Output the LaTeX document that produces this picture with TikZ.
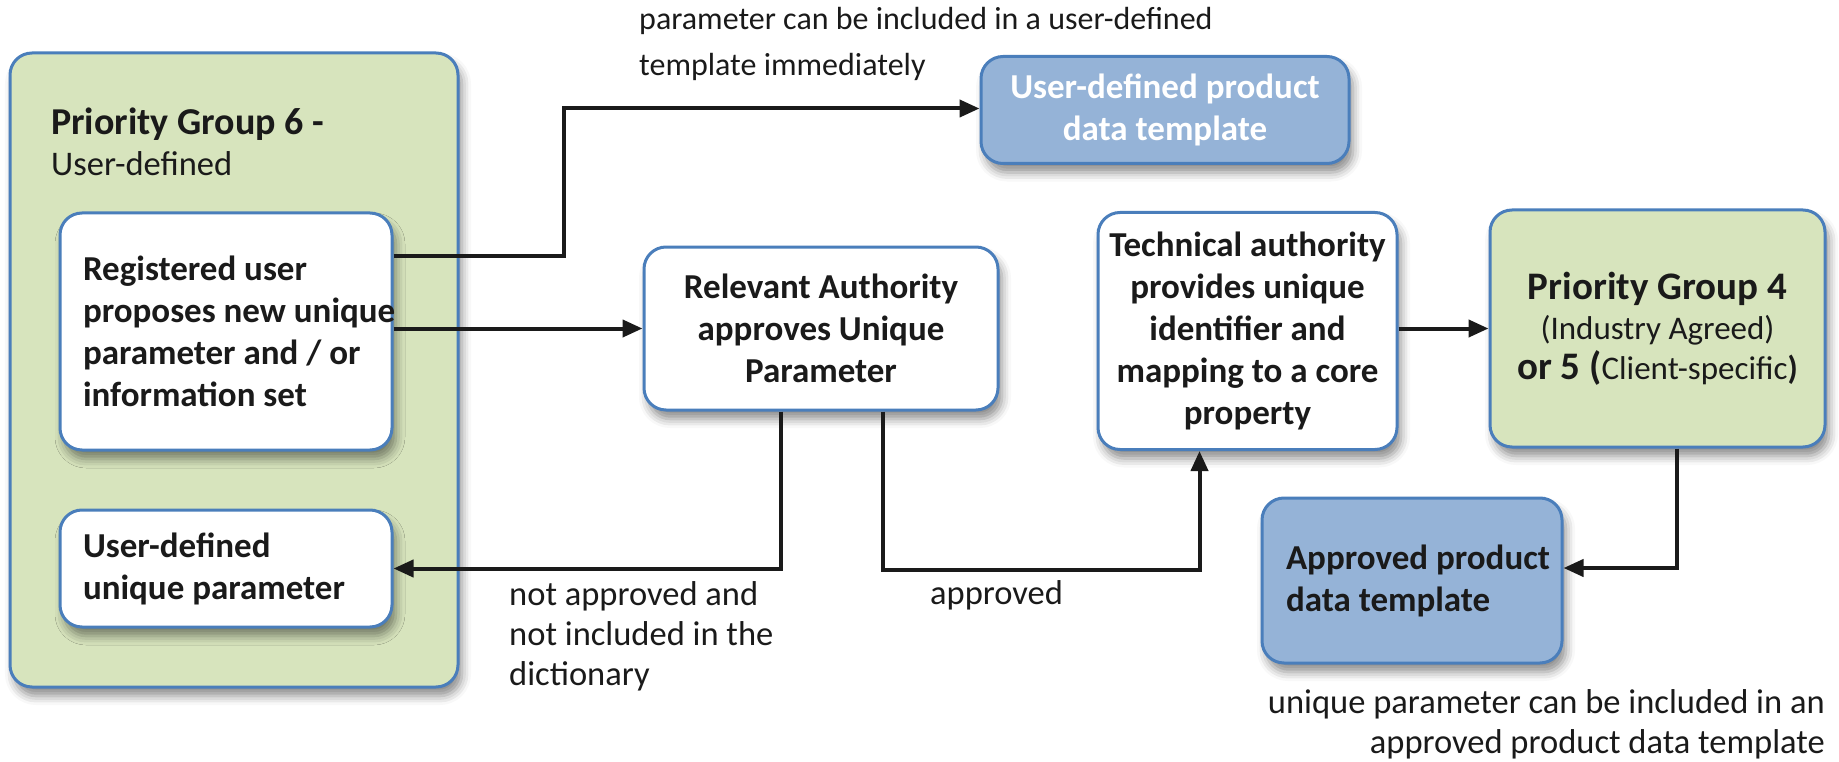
\documentclass[tikz,border=0pt]{standalone}
\usepackage{fontspec}
\setmainfont{Carlito}
\usepackage{tikz}
\usetikzlibrary{positioning}
\usetikzlibrary{arrows.meta}
\usetikzlibrary{shadows.blur}
\definecolor{boxline}{HTML}{4A7EBB}
\definecolor{groupgreen}{HTML}{D7E4BD}
\definecolor{templateblue}{HTML}{95B3D7}
\definecolor{inktext}{HTML}{1A1A1A}
\newcommand{\boxfont}{\fontsize{35}{42}\selectfont\bfseries}
\newcommand{\notefont}{\fontsize{34.5}{40}\selectfont}
\newcommand{\row}[1]{\mbox{\spaceskip=0pt\xspaceskip=0pt\relax #1}}

\begin{document}
\begin{tikzpicture}[x=1pt, y=-1pt, text=inktext,
    card/.style={
        draw=boxline, line width=3pt, rounded corners=22pt,
        blur shadow={shadow xshift=4pt, shadow yshift=-9pt,
            shadow blur radius=9pt, shadow opacity=45}},
    group/.style={card, fill=groupgreen},
    task/.style={card, fill=white, font=\boxfont, align=center},
    template/.style={card, fill=templateblue, font=\boxfont},
    note/.style={font=\notefont, inner sep=0pt},
    flow/.style={->, >={Triangle[length=20pt, width=17pt]},
        line width=4pt, draw=inktext, line join=miter}
    ]
    \useasboundingbox (0,0) rectangle (1839,762);

    % priority group 6 with its two boxes
    \node[group, minimum width=448pt, minimum height=634pt] (pg6) at (234,370) {};
    \node[inner sep=0pt, anchor=west, align=left, font=\fontsize{34.5}{41}\selectfont]
        (pg6 title) at (51,142)
        {\fontsize{38}{41}\selectfont\bfseries Priority Group 6 -\\User-defined};
    \node[task, align=left, text width=286pt, inner xsep=23pt,
        minimum height=237pt] (proposal) at (226,331.5)
        {\row{Registered user}\\\row{proposes new unique}\\\row{parameter and / or}\\\row{information set}};
    \node[task, align=left, text width=286pt, inner xsep=23pt,
        minimum height=117pt] (user param) at (226,568.5)
        {\row{User-defined}\\\row{unique parameter}};

    % authorities
    \node[task, minimum width=354pt, minimum height=163pt] (relevant) at (821,328.5)
        {Relevant Authority\\approves Unique\\Parameter};
    \node[task, minimum width=299pt, minimum height=237pt, inner xsep=2pt] (technical) at (1247.5,331)
        {Technical authority\\provides unique\\identifier and\\mapping to a core\\property};

    % priority group 4 or 5
    \node[group, minimum width=335pt, minimum height=237pt, align=center,
        font=\fontsize{33}{40}\selectfont] (pg4) at (1657.5,328.5)
        {\fontsize{39}{40}\selectfont\bfseries Priority Group 4\\
         (Industry Agreed)\\
         \fontsize{39}{40}\selectfont\bfseries or 5 (\fontsize{33}{40}\selectfont\mdseries Client-specific\bfseries)};

    % templates
    \node[template, text=white, align=center, minimum width=368pt,
        minimum height=107pt] (user template) at (1165,110)
        {User-defined product\\data template};
    \node[template, align=left, text width=252pt, inner xsep=24pt,
        minimum height=165pt] (approved template) at (1412,580.5)
        {\row{Approved product}\\\row{data template}};

    % connectors
    \draw[flow] ([yshift=75.5pt]proposal.east) -- ++(170pt,0) |- ([yshift=1.5pt]user template.west);
    \draw[flow] (proposal.east |- relevant.west) -- (relevant.west);
    \draw[flow] ([xshift=-40pt]relevant.south) |- (user param.east);
    \draw[flow] ([xshift=62pt]relevant.south) -- ++(0,-158pt)
        -| ([xshift=-48pt]technical.south);
    \draw[flow] (technical.east |- pg4.west) -- (pg4.west);
    \draw[flow] ([xshift=19.5pt]pg4.south) |- ([yshift=12.5pt]approved template.east);

    % notes
    \node[note, anchor=west, align=left, font=\fontsize{32}{46}\selectfont] (note user) at (639,44)
        {parameter can be included in a user-defined\\template immediately};
    \node[note, anchor=west, align=left] (note rejected) at (509,636)
        {not approved and\\not included in the\\dictionary};
    \node[note, anchor=west] (note approved) at (930,595) {approved};
    \node[note, anchor=east, align=right] (note approved template) at (1825,724)
        {unique parameter can be included in an\\approved product data template};
\end{tikzpicture}
\end{document}
